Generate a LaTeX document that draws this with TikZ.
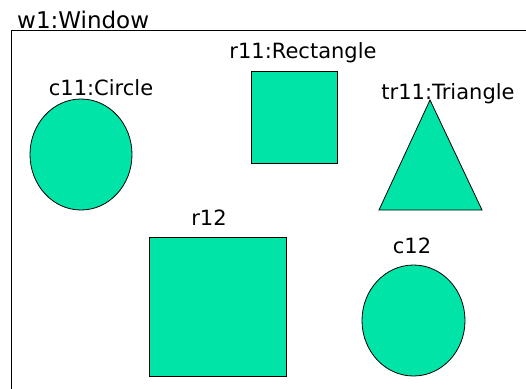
\documentclass[tikz,border=0pt]{standalone}
\usepackage{fontspec}
\setmainfont{DejaVu Sans}
\usetikzlibrary{shapes.geometric}
\definecolor{shapefill}{RGB}{0,228,168}
\begin{document}
\begin{tikzpicture}[x=1pt,y=-1pt,
  lbl/.style={font=\fontsize{21}{25}\selectfont, inner sep=0pt, anchor=base},
  shp/.style={draw=black, fill=shapefill, line width=0.8pt},
  frame/.style={draw=black, line width=0.9pt}]
\useasboundingbox (0,0) rectangle (526,388);
\begin{scope}
\clip (0,0) rectangle (526,388);
\draw[frame] (11,30) rectangle (600,500);
\end{scope}
\node[lbl, anchor=base west, font=\fontsize{23}{27}\selectfont] (wl) at (17,28) {w1:Window};
% c11
\node[shp, ellipse, minimum width=102pt, minimum height=111pt, inner sep=0pt] (c11) at (81,154.5) {};
\node[lbl] (c11l) at (101,95) {c11:Circle};
% r11
\node[shp, rectangle, minimum width=86pt, minimum height=92pt, inner sep=0pt] (r11) at (294,117) {};
\node[lbl] (r11l) at (303,58) {r11:Rectangle};
% tr11
\coordinate (ta) at (430,100);
\coordinate (tb) at (379,210);
\coordinate (tc) at (482,210);
\draw[shp] (ta) -- (tb) -- (tc) -- cycle;
\node[lbl] (tr11l) at (448,99) {tr11:Triangle};
% r12
\node[shp, rectangle, minimum width=137pt, minimum height=139pt, inner sep=0pt] (r12) at (217.5,306.5) {};
\node[lbl] (r12l) at (209,225) {r12};
% c12
\node[shp, ellipse, minimum width=103pt, minimum height=111pt, inner sep=0pt] (c12) at (413.5,320.5) {};
\node[lbl] (c12l) at (412,253) {c12};
\end{tikzpicture}
\end{document}
